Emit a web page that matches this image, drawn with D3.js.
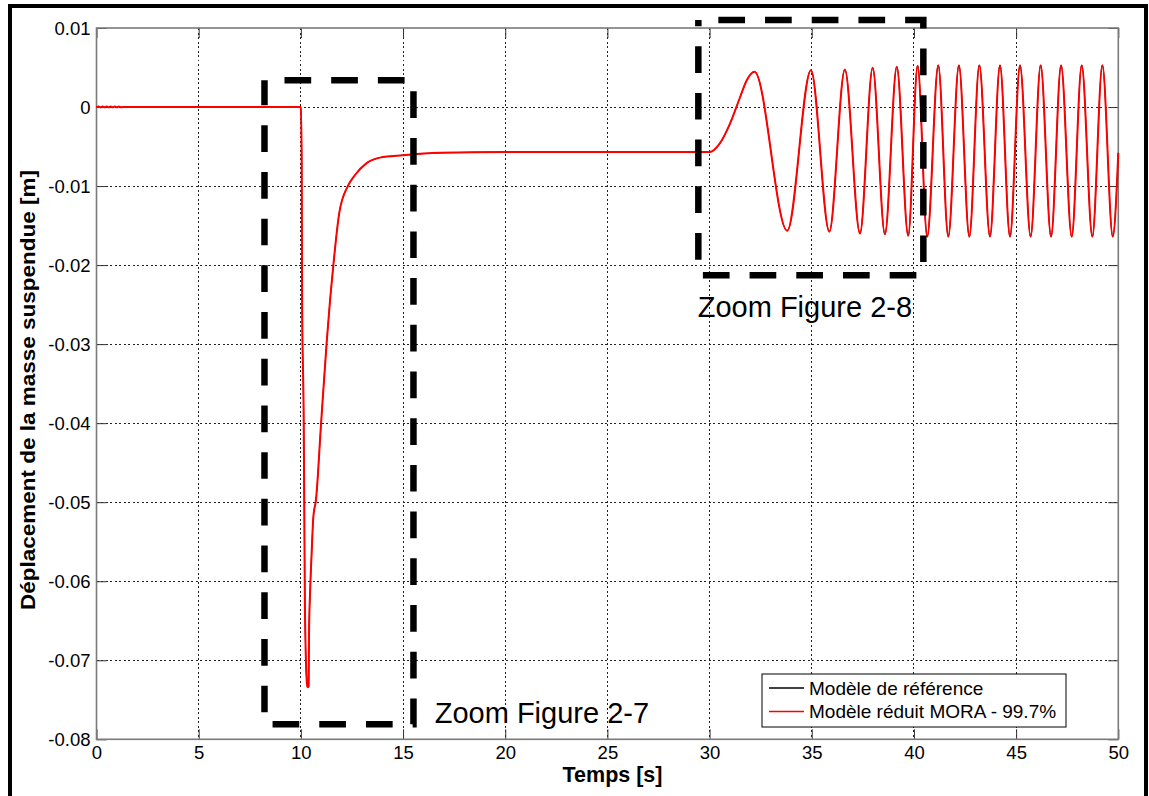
<!DOCTYPE html>
<html>
<head>
<meta charset="utf-8">
<script src="https://cdn.jsdelivr.net/npm/d3@7"></script>
<style>
  html, body { margin: 0; padding: 0; background: #fff; }
  svg { display: block; font-family: Arial, "Liberation Sans", Helvetica, sans-serif; }
</style>
</head>
<body>
<svg id="chart" width="1149" height="796"></svg>
<script>
// ---------------- DATA ----------------
const timeS = [
  0, 0.1, 0.2, 0.3, 0.4, 0.5, 0.6, 0.7, 0.8, 0.9, 1.0, 1.1, 1.2, 1.3,
  5, 9.98, 10.0, 10.04, 10.06, 10.14, 10.17, 10.20, 10.30, 10.33, 10.38, 10.40,
  10.45, 10.52, 10.61, 10.74, 10.99, 11.26, 11.43, 11.59, 11.88, 12.32, 12.65,
  13.22, 13.87, 14.99, 16.81, 20, 25, 30.0, 30.5, 31.0, 31.5, 31.82, 32.2,
  33.80, 34.96, 35.86, 36.62, 37.36, 37.98, 38.58, 39.16, 39.72, 40.18, 40.65,
  41.19, 41.68, 42.20, 42.71, 43.20, 43.72, 44.21, 44.70, 45.19, 45.71, 46.20,
  46.71, 47.20, 47.72, 48.21, 48.73, 49.22, 49.73, 50.0
];
const moraValues = [
  0, 0.00008, -0.00004, 0.00008, -0.00004, 0.00008, -0.00004, 0.00008, -0.00004, 0.00008, -0.00004, 0.00008, -0.00004, 0,
  0, 0, 0, -0.0063, -0.0244, -0.0400, -0.0519, -0.0636, -0.0730, -0.0734, -0.0733, -0.0665,
  -0.0615, -0.0569, -0.0519, -0.0497, -0.0400, -0.0299, -0.0244, -0.0200, -0.0134, -0.0099, -0.0086,
  -0.0071, -0.0064, -0.0061, -0.0058, -0.0057, -0.0057, -0.0057, -0.0046, -0.0021, 0.0013, 0.0034, 0.00447,
  -0.01565, 0.00467, -0.01577, 0.00476, -0.0160, 0.00496, -0.0161, 0.0051, -0.0163, 0.00523, -0.0164,
  0.0053, -0.0164, 0.0053, -0.0164, 0.0053, -0.0164, 0.0053, -0.0164, 0.0053, -0.0164, 0.0053,
  -0.0164, 0.0053, -0.0164, 0.0053, -0.0164, 0.0053, -0.0164, -0.0058
];
// Reference model: visually identical to the reduced model (99.7 %), drawn underneath
const referenceValues = moraValues;

const xTicks = [0, 5, 10, 15, 20, 25, 30, 35, 40, 45, 50];
const xTickLabels = ["0", "5", "10", "15", "20", "25", "30", "35", "40", "45", "50"];
const yTicks = [0.01, 0, -0.01, -0.02, -0.03, -0.04, -0.05, -0.06, -0.07, -0.08];
const yTickLabels = ["0.01", "0", "-0.01", "-0.02", "-0.03", "-0.04", "-0.05", "-0.06", "-0.07", "-0.08"];

const seriesNames = ["Modèle de référence", "Modèle réduit MORA - 99.7%"];
const seriesColors = ["#000000", "#ff0000"];
const xLabel = "Temps [s]";
const yLabel = "Déplacement de la masse suspendue [m]";

// zoom annotation boxes (data units: time, displacement)
const zoomT0 = [8.22, 29.45];
const zoomT1 = [15.51, 40.46];
const zoomVTop = [0.0034, 0.0110];
const zoomVBot = [-0.0781, -0.02127];
const zoomLabels = ["Zoom Figure 2-7", "Zoom Figure 2-8"];

// ---------------- LAYOUT ----------------
const svg = d3.select("#chart");
const W = 1149, H = 796;
const plot = { left: 96.5, top: 28, right: 1118.3, bottom: 739.3 };

const x = d3.scaleLinear().domain([0, 50]).range([plot.left, plot.right]);
const y = d3.scaleLinear().domain([-0.08, 0.01]).range([plot.bottom, plot.top]);

svg.append("rect").attr("width", W).attr("height", H).attr("fill", "#fff");

// outer black frame
svg.append("rect")
  .attr("x", 10).attr("y", 6).attr("width", 1136).attr("height", 820)
  .attr("fill", "none").attr("stroke", "#000").attr("stroke-width", 4);

// grid
const gGrid = svg.append("g");
gGrid.selectAll("line.vx").data(xTicks.slice(1, -1)).enter().append("line")
  .attr("x1", d => x(d)).attr("x2", d => x(d))
  .attr("y1", plot.top).attr("y2", plot.bottom)
  .attr("stroke", "#222").attr("stroke-width", 1).attr("stroke-dasharray", "2,2.5")
  .attr("shape-rendering", "crispEdges");
gGrid.selectAll("line.hy").data(yTicks.slice(1, -1)).enter().append("line")
  .attr("y1", d => y(d)).attr("y2", d => y(d))
  .attr("x1", plot.left).attr("x2", plot.right)
  .attr("stroke", "#222").attr("stroke-width", 1).attr("stroke-dasharray", "2,2.5")
  .attr("shape-rendering", "crispEdges");

// axes with inward ticks
const fmtX = d => xTickLabels[xTicks.indexOf(d)];
const fmtY = d => yTickLabels[yTicks.indexOf(d)];
const axB = svg.append("g").attr("transform", `translate(0,${plot.bottom})`)
  .call(d3.axisBottom(x).tickValues(xTicks).tickFormat(fmtX).tickSizeInner(-10).tickSizeOuter(0).tickPadding(16));
const axT = svg.append("g").attr("transform", `translate(0,${plot.top})`)
  .call(d3.axisTop(x).tickValues(xTicks).tickFormat("").tickSizeInner(-10).tickSizeOuter(0));
const axL = svg.append("g").attr("transform", `translate(${plot.left},0)`)
  .call(d3.axisLeft(y).tickValues(yTicks).tickFormat(fmtY).tickSizeInner(-10).tickSizeOuter(0).tickPadding(6));
const axR = svg.append("g").attr("transform", `translate(${plot.right},0)`)
  .call(d3.axisRight(y).tickValues(yTicks).tickFormat("").tickSizeInner(-10).tickSizeOuter(0));
[axB, axT, axL, axR].forEach(a => {
  a.select(".domain").remove();
  a.selectAll(".tick line").attr("stroke", "#333").attr("stroke-width", 1);
  a.selectAll("text").attr("font-size", 18.5).attr("fill", "#000")
    .attr("font-family", "Arial, 'Liberation Sans', sans-serif");
});
axB.selectAll("text").attr("dy", "0.2em");
axL.selectAll("text").attr("dy", "0.36em");

// box
svg.append("rect")
  .attr("x", plot.left).attr("y", plot.top)
  .attr("width", plot.right - plot.left).attr("height", plot.bottom - plot.top)
  .attr("fill", "none").attr("stroke", "#7a7a7a").attr("stroke-width", 1.6);

// curves
const pts = (vals) => timeS.map((t, i) => [t, vals[i]]);
const lineGen = d3.line().x(d => x(d[0])).y(d => y(d[1])).curve(d3.curveMonotoneX);

svg.append("path").datum(pts(referenceValues))
  .attr("d", lineGen).attr("fill", "none").attr("stroke", seriesColors[0]).attr("stroke-width", 1);
svg.append("path").datum(pts(moraValues))
  .attr("d", lineGen).attr("fill", "none").attr("stroke", seriesColors[1]).attr("stroke-width", 2);

// zoom boxes
zoomLabels.forEach((lab, i) => {
  const x0 = x(zoomT0[i]), x1 = x(zoomT1[i]);
  const y0 = y(zoomVTop[i]), y1 = y(zoomVBot[i]);
  svg.append("path")
    .attr("d", `M${x0},${y0}L${x1},${y0}L${x1},${y1}L${x0},${y1}Z`)
    .attr("fill", "none").attr("stroke", "#000").attr("stroke-width", 6.5)
    .attr("stroke-dasharray", "26.7,20").attr("stroke-dashoffset", 26.7);
});
svg.append("text").attr("x", x(16.55)).attr("y", y(-0.0780))
  .attr("font-size", 29).attr("fill", "#000").text(zoomLabels[0]);
svg.append("text").attr("x", x(29.42)).attr("y", y(-0.0266))
  .attr("font-size", 29).attr("fill", "#000").text(zoomLabels[1]);

// axis labels
svg.append("text").attr("x", x(25.25)).attr("y", 782)
  .attr("text-anchor", "middle").attr("font-weight", "bold").attr("font-size", 21.5)
  .text(xLabel);
svg.append("text")
  .attr("transform", `translate(35,${(168 + 612) / 2}) rotate(-90)`)
  .attr("text-anchor", "middle").attr("font-weight", "bold").attr("font-size", 21)
  .attr("textLength", 440).attr("lengthAdjust", "spacingAndGlyphs")
  .text(yLabel);

// legend
const lg = svg.append("g");
lg.append("rect").attr("x", 762).attr("y", 674).attr("width", 304).attr("height", 53)
  .attr("fill", "#fff").attr("stroke", "#000").attr("stroke-width", 1);
seriesNames.forEach((name, i) => {
  const cy = 688 + i * 23.5;
  lg.append("line").attr("x1", 769).attr("x2", 804).attr("y1", cy).attr("y2", cy)
    .attr("stroke", seriesColors[i]).attr("stroke-width", 1.5);
  lg.append("text").attr("x", 809).attr("y", cy + 6.5)
    .attr("font-size", 19).attr("fill", "#000").text(name);
});
</script>
</body>
</html>
